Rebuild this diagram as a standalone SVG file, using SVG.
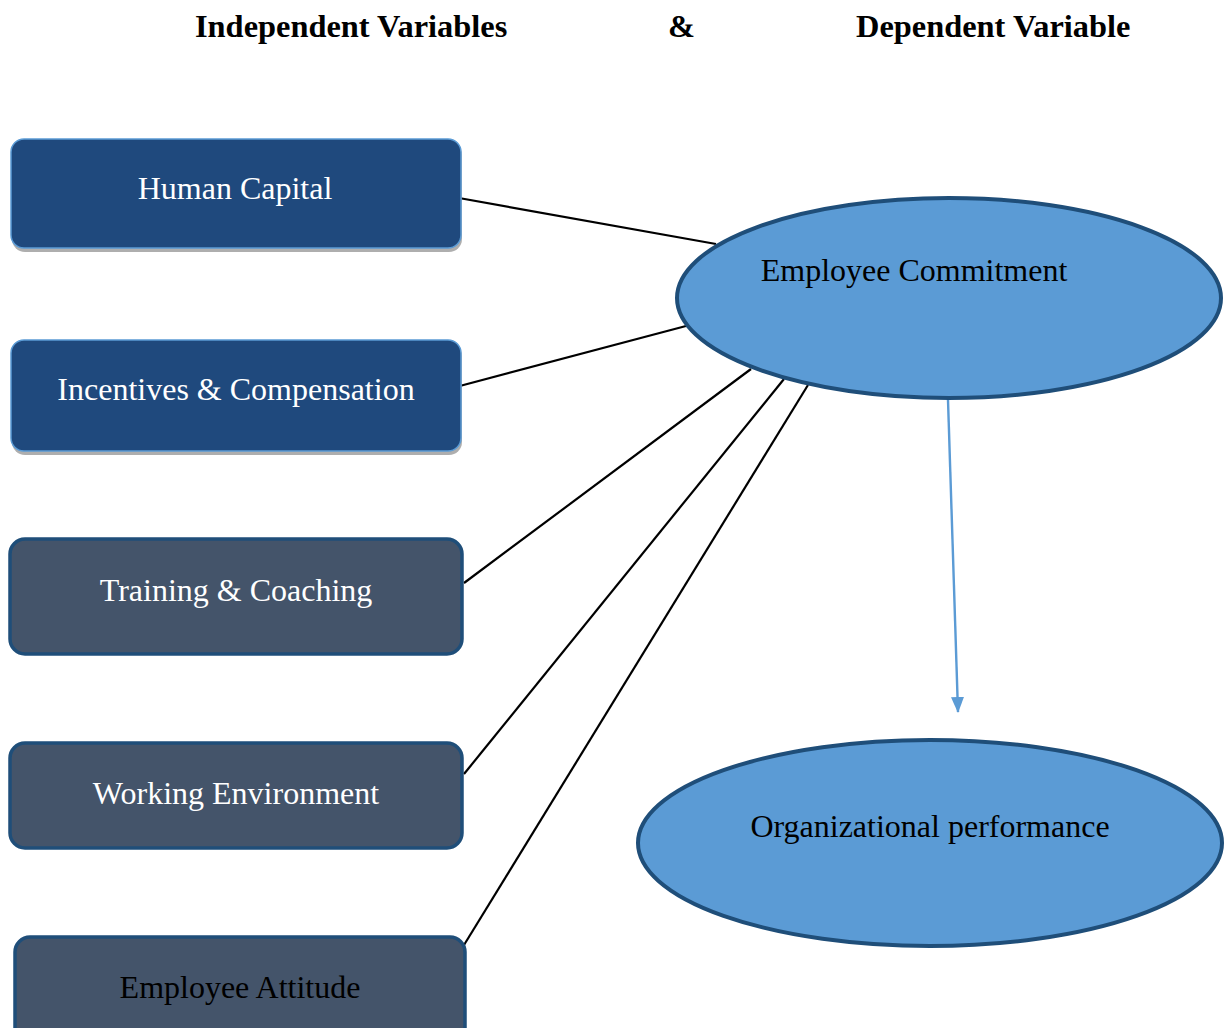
<svg xmlns="http://www.w3.org/2000/svg" width="1225" height="1028" viewBox="0 0 1225 1028">
  <style>
    .title { font-family: "Liberation Serif", "Times New Roman", serif; font-size: 32.4px; font-weight: bold; fill: #000; }
    .label { font-family: "Liberation Serif", "Times New Roman", serif; font-size: 32px; text-anchor: middle; }
    .light { fill: #ffffff; }
    .dark { fill: #000000; }
    .boxA { fill: #1f497d; stroke: #5b9bd5; stroke-width: 1.5; }
    .boxB { fill: #44546a; stroke: #1f4e79; stroke-width: 3.5; }
    .shadow { fill: #8c8c8c; opacity: 0.7; }
    .oval { fill: #5b9bd5; stroke: #1f4e79; stroke-width: 4; }
    .link { stroke: #000; stroke-width: 2.2; fill: none; }
    .flow { stroke: #5b9bd5; stroke-width: 2.4; fill: none; }
  </style>
  <defs>
    <marker id="arrowhead" markerWidth="16" markerHeight="16" refX="15" refY="8" orient="auto" markerUnits="userSpaceOnUse" viewBox="0 0 16 16">
      <path d="M0,1.5 L16,8 L0,14.5 z" fill="#5b9bd5"/>
    </marker>
  </defs>

  <rect width="1225" height="1028" fill="#ffffff"/>

  <!-- headings -->
  <text class="title" x="195" y="37">Independent Variables</text>
  <text class="title" x="668" y="37">&amp;</text>
  <text class="title" x="856" y="37">Dependent Variable</text>

  <!-- connectors -->
  <g id="connectors">
    <line class="link" x1="459" y1="198" x2="716" y2="244"/>
    <line class="link" x1="456" y1="387" x2="686" y2="326"/>
    <line class="link" x1="464" y1="583" x2="751" y2="369"/>
    <line class="link" x1="464" y1="774" x2="784" y2="379"/>
    <line class="link" x1="464" y1="945" x2="808" y2="385"/>
    <line class="flow" x1="948" y1="400" x2="958" y2="712" marker-end="url(#arrowhead)"/>
  </g>

  <!-- independent variables -->
  <g id="human-capital">
    <rect class="shadow" x="12" y="142" width="450" height="110" rx="13"/>
    <rect class="boxA" x="11" y="139" width="450" height="109" rx="13"/>
    <text class="label light" x="235" y="199">Human Capital</text>
  </g>
  <g id="incentives-compensation">
    <rect class="shadow" x="12" y="343" width="450" height="112" rx="13"/>
    <rect class="boxA" x="11" y="340" width="450" height="111" rx="13"/>
    <text class="label light" x="236" y="400">Incentives &amp; Compensation</text>
  </g>
  <g id="training-coaching">
    <rect class="boxB" x="10" y="539" width="452" height="115" rx="15"/>
    <text class="label light" x="236" y="601">Training &amp; Coaching</text>
  </g>
  <g id="working-environment">
    <rect class="boxB" x="10" y="743" width="452" height="105" rx="15"/>
    <text class="label light" x="236" y="804">Working Environment</text>
  </g>
  <g id="employee-attitude">
    <rect class="boxB" x="15" y="937" width="450" height="110" rx="15"/>
    <text class="label dark" x="240" y="998">Employee Attitude</text>
  </g>

  <!-- dependent side -->
  <g id="employee-commitment">
    <ellipse class="oval" cx="949" cy="298" rx="272" ry="100"/>
    <text class="label dark" x="914" y="281">Employee Commitment</text>
  </g>
  <g id="organizational-performance">
    <ellipse class="oval" cx="930" cy="843" rx="292" ry="103"/>
    <text class="label dark" x="930" y="837">Organizational performance</text>
  </g>
</svg>
